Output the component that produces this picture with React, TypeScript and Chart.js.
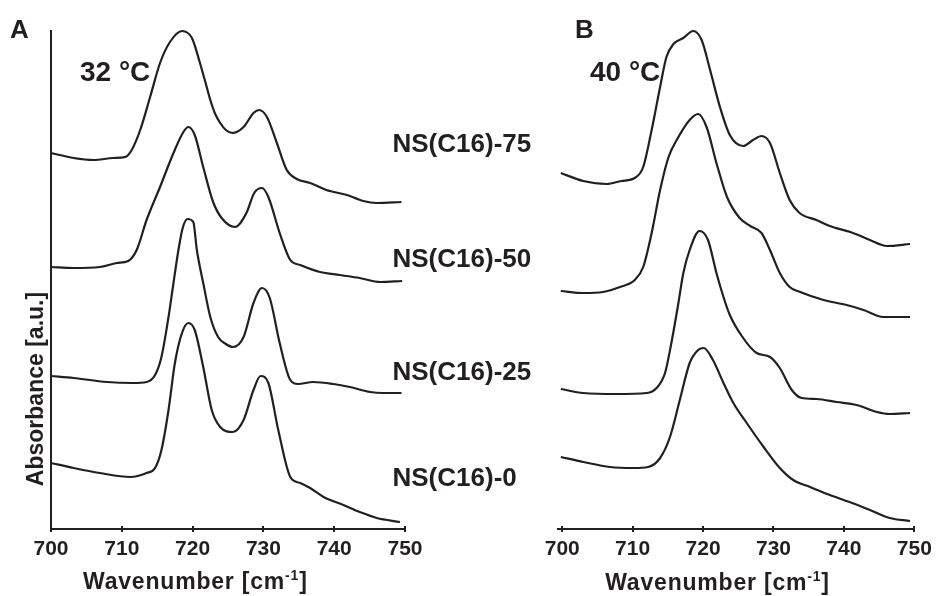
import React, { useEffect, useRef } from "react";
import { Chart, registerables } from "chart.js";

Chart.register(...registerables);

const FONT = '"Liberation Sans", Arial, Helvetica, sans-serif';
const INK = "#231f20";

// ---------- data: wavenumber [cm-1] and stacked absorbance [a.u.] ----------
const xTicks = [700, 710, 720, 730, 740, 750];
const sampleLabels = ["NS(C16)-75", "NS(C16)-50", "NS(C16)-25", "NS(C16)-0"];

// Panel A, 32 °C
const waveA75 = [700, 703.2, 706.0, 708.8, 710.5, 711.4, 712.6, 714.0, 715.4, 716.8, 718.5, 719.9, 721.0, 721.8, 722.5, 723.2, 723.9, 724.7, 725.6, 727.2, 728.6, 729.4, 730.5, 731.9, 733.3, 734.7, 736.6, 738.9, 741.8, 744.1, 746.0, 749.5];
const absA75 = [3.76, 3.71, 3.69, 3.71, 3.72, 3.79, 3.99, 4.32, 4.66, 4.87, 4.98, 4.91, 4.67, 4.47, 4.29, 4.15, 4.06, 3.99, 3.96, 4.02, 4.16, 4.19, 4.12, 3.86, 3.59, 3.50, 3.46, 3.39, 3.34, 3.28, 3.26, 3.27];

const waveA50 = [700, 703.2, 706.9, 709.3, 710.9, 712.1, 713.5, 715.4, 717.3, 718.7, 719.4, 720.3, 721.5, 722.9, 724.1, 726.0, 727.6, 728.7, 729.8, 730.7, 732.3, 733.8, 735.2, 738.0, 740.8, 743.6, 746.5, 749.6];
const absA50 = [2.62, 2.61, 2.62, 2.66, 2.68, 2.79, 3.09, 3.42, 3.76, 3.97, 4.02, 3.94, 3.62, 3.27, 3.11, 3.02, 3.16, 3.36, 3.41, 3.32, 2.96, 2.69, 2.64, 2.57, 2.54, 2.51, 2.47, 2.48];

const waveA25 = [700, 703.2, 707.9, 711.6, 713.5, 714.7, 715.6, 716.6, 717.3, 718.0, 718.6, 719.3, 720.1, 720.6, 721.5, 722.5, 723.6, 724.7, 725.7, 727.2, 728.6, 729.8, 730.9, 732.3, 733.8, 734.9, 737.0, 739.9, 742.2, 745.1, 746.9, 749.5];
const absA25 = [1.53, 1.51, 1.47, 1.46, 1.47, 1.54, 1.72, 2.12, 2.46, 2.79, 3.01, 3.10, 3.07, 2.79, 2.46, 2.12, 1.92, 1.85, 1.82, 1.92, 2.26, 2.41, 2.31, 1.86, 1.49, 1.45, 1.47, 1.45, 1.42, 1.37, 1.36, 1.36];

const waveA0 = [700, 703.2, 706.9, 711.2, 713.5, 714.7, 715.6, 716.6, 717.5, 718.5, 719.4, 720.3, 721.5, 722.7, 723.9, 725.7, 727.2, 728.6, 729.6, 730.7, 732.1, 733.8, 735.2, 736.6, 738.5, 741.3, 743.6, 746.0, 749.3];
const absA0 = [0.66, 0.61, 0.56, 0.52, 0.56, 0.61, 0.79, 1.19, 1.66, 1.96, 2.06, 1.99, 1.62, 1.19, 1.02, 0.97, 1.09, 1.39, 1.53, 1.46, 0.99, 0.52, 0.46, 0.41, 0.32, 0.24, 0.17, 0.11, 0.07];

// Panel B, 40 °C
const waveB75 = [699.8, 703.0, 706.3, 708.4, 710.3, 711.5, 712.7, 713.9, 714.8, 715.8, 717.2, 718.6, 719.8, 721.0, 722.4, 723.8, 725.7, 727.1, 728.3, 729.5, 730.9, 732.3, 733.7, 736.1, 738.0, 741.3, 743.7, 746.1, 749.4];
const absB75 = [3.56, 3.48, 3.45, 3.48, 3.51, 3.62, 3.99, 4.42, 4.72, 4.85, 4.91, 4.98, 4.89, 4.59, 4.22, 3.94, 3.83, 3.89, 3.93, 3.86, 3.56, 3.29, 3.16, 3.09, 3.03, 2.96, 2.89, 2.83, 2.85];

const waveB50 = [699.8, 703.0, 705.8, 708.2, 710.3, 711.5, 712.7, 713.9, 715.1, 716.5, 718.1, 719.3, 720.5, 721.9, 723.4, 725.2, 726.7, 728.3, 729.5, 730.9, 732.3, 733.8, 737.1, 740.4, 742.8, 745.6, 749.4];
const absB50 = [2.38, 2.36, 2.37, 2.42, 2.49, 2.62, 2.96, 3.39, 3.72, 3.92, 4.09, 4.15, 4.02, 3.66, 3.32, 3.11, 3.03, 2.96, 2.79, 2.56, 2.42, 2.37, 2.29, 2.24, 2.19, 2.12, 2.12];

const waveB25 = [699.8, 703.0, 707.7, 712.0, 713.4, 714.6, 715.5, 716.5, 717.2, 718.1, 719.5, 720.7, 721.9, 722.9, 723.8, 725.5, 727.6, 729.5, 730.9, 732.6, 734.0, 736.1, 739.0, 741.8, 744.7, 746.5, 749.4];
const absB25 = [1.40, 1.36, 1.35, 1.36, 1.41, 1.56, 1.86, 2.26, 2.56, 2.79, 2.98, 2.89, 2.56, 2.32, 2.14, 1.93, 1.76, 1.72, 1.61, 1.39, 1.31, 1.30, 1.27, 1.24, 1.17, 1.15, 1.16];

const waveB0 = [699.8, 703.0, 706.8, 710.1, 712.2, 713.9, 715.3, 716.7, 718.1, 719.3, 720.1, 721.4, 722.9, 724.3, 726.2, 728.6, 730.9, 732.8, 735.2, 738.0, 740.8, 743.7, 746.5, 749.4];
const absB0 = [0.72, 0.67, 0.62, 0.61, 0.62, 0.71, 0.92, 1.29, 1.66, 1.79, 1.81, 1.69, 1.46, 1.26, 1.06, 0.82, 0.61, 0.49, 0.42, 0.34, 0.27, 0.19, 0.11, 0.08];

// ---------- helpers ----------
function series(w: number[], a: number[]) {
  return w.map((x, i) => ({ x, y: a[i] }));
}

function makeDatasets(list: [number[], number[]][]) {
  return list.map(([w, a], i) => ({
    label: sampleLabels[i],
    data: series(w, a),
    borderColor: INK,
    borderWidth: 2.2,
    pointRadius: 0,
    cubicInterpolationMode: "monotone" as const,
    fill: false,
    clip: false as any,
  }));
}

function drawText(ctx: CanvasRenderingContext2D, str: string, x: number, y: number, size: number, align: CanvasTextAlign = "left") {
  ctx.font = `bold ${size}px ${FONT}`;
  ctx.textAlign = align;
  ctx.textBaseline = "alphabetic";
  ctx.fillStyle = INK;
  ctx.fillText(str, x, y);
}

function drawWaveTitle(ctx: CanvasRenderingContext2D, cx: number, baseline: number) {
  const size = 23;
  const supSize = 14;
  ctx.save();
  (ctx as any).letterSpacing = "0.8px";
  ctx.fillStyle = INK;
  ctx.textBaseline = "alphabetic";
  ctx.textAlign = "left";
  ctx.font = `bold ${size}px ${FONT}`;
  const w1 = ctx.measureText("Wavenumber [cm").width;
  const w3 = ctx.measureText("]").width;
  ctx.font = `bold ${supSize}px ${FONT}`;
  const w2 = ctx.measureText("-1").width;
  let x = cx - (w1 + w2 + w3) / 2;
  ctx.font = `bold ${size}px ${FONT}`;
  ctx.fillText("Wavenumber [cm", x, baseline);
  x += w1;
  ctx.font = `bold ${supSize}px ${FONT}`;
  ctx.fillText("-1", x, baseline - 9);
  x += w2;
  ctx.font = `bold ${size}px ${FONT}`;
  ctx.fillText("]", x, baseline);
  ctx.restore();
}

function drawInnerTicks(chart: any) {
  const s = chart.scales.x;
  const ctx = chart.ctx as CanvasRenderingContext2D;
  ctx.save();
  ctx.strokeStyle = INK;
  ctx.lineWidth = 2;
  xTicks.forEach((v) => {
    const p = Math.round(s.getPixelForValue(v));
    ctx.beginPath();
    ctx.moveTo(p, s.top - 3);
    ctx.lineTo(p, s.top);
    ctx.stroke();
  });
  ctx.restore();
}

function panelConfig(datasets: any[], xMin: number, padding: any, showY: boolean, extra: (chart: any) => void): any {
  return {
    type: "line",
    data: { datasets },
    options: {
      responsive: false,
      animation: false,
      events: [],
      layout: { padding },
      plugins: {
        legend: { display: false },
        tooltip: { enabled: false },
        title: { display: false },
      },
      scales: {
        x: {
          type: "linear",
          min: xMin,
          max: 750,
          afterBuildTicks: (s: any) => {
            s.ticks = xTicks.map((v) => ({ value: v }));
          },
          afterFit: (s: any) => {
            s.height = 67;
          },
          grid: { display: true, drawOnChartArea: false, drawTicks: true, tickLength: 3, color: INK, lineWidth: 2 },
          border: { display: true, color: INK, width: 2 },
          ticks: {
            color: INK,
            font: { family: FONT, size: 21, weight: "bold" },
            padding: 5,
            maxRotation: 0,
            autoSkip: false,
          },
        },
        y: {
          type: "linear",
          min: 0,
          max: 4.98,
          display: showY,
          afterFit: (s: any) => {
            s.width = showY ? 51 : 0;
          },
          grid: { display: false, drawTicks: false },
          ticks: { display: false },
          border: { display: true, color: INK, width: 2 },
        },
      },
    },
    plugins: [
      {
        id: "extraDraw",
        afterDraw: (chart: any) => {
          drawInnerTicks(chart);
          extra(chart);
        },
      },
    ],
  };
}

export default function App() {
  const refA = useRef<HTMLCanvasElement>(null);
  const refB = useRef<HTMLCanvasElement>(null);

  useEffect(() => {
    const dsA = makeDatasets([
      [waveA75, absA75],
      [waveA50, absA50],
      [waveA25, absA25],
      [waveA0, absA0],
    ]);
    const dsB = makeDatasets([
      [waveB75, absB75],
      [waveB50, absB50],
      [waveB25, absB25],
      [waveB0, absB0],
    ]);

    const labelBaselines = [152.3, 266.7, 380, 485.7];

    const chartA = new Chart(
      refA.current as HTMLCanvasElement,
      panelConfig(dsA, 700, { left: 0, top: 31, right: 535, bottom: 0 }, true, (chart) => {
        const ctx = chart.ctx as CanvasRenderingContext2D;
        ctx.save();
        drawText(ctx, "A", 10, 38.3, 26);
        drawText(ctx, "32 °C", 80, 80.7, 28);
        sampleLabels.forEach((t, i) => drawText(ctx, t, 392.5, labelBaselines[i], 26));
        ctx.translate(43, 389);
        ctx.rotate(-Math.PI / 2);
        drawText(ctx, "Absorbance [a.u.]", 0, 0, 23, "center");
        ctx.restore();
        drawWaveTitle(ctx, 195.3, 589);
      })
    );

    const chartB = new Chart(
      refB.current as HTMLCanvasElement,
      panelConfig(dsB, 699.4, { left: 558, top: 31, right: 25.7, bottom: 0 }, false, (chart) => {
        const ctx = chart.ctx as CanvasRenderingContext2D;
        ctx.save();
        drawText(ctx, "B", 575, 38.3, 26);
        drawText(ctx, "40 °C", 590, 80.7, 28);
        ctx.restore();
        drawWaveTitle(ctx, 717.5, 590);
      })
    );

    return () => {
      chartA.destroy();
      chartB.destroy();
    };
  }, []);

  const canvasStyle: React.CSSProperties = { position: "absolute", left: 0, top: 0, width: 940, height: 596 };

  return (
    <div style={{ position: "absolute", left: 0, top: 0, width: 940, height: 596, background: "#fff" }}>
      <canvas ref={refA} width={940} height={596} style={canvasStyle} />
      <canvas ref={refB} width={940} height={596} style={canvasStyle} />
    </div>
  );
}
